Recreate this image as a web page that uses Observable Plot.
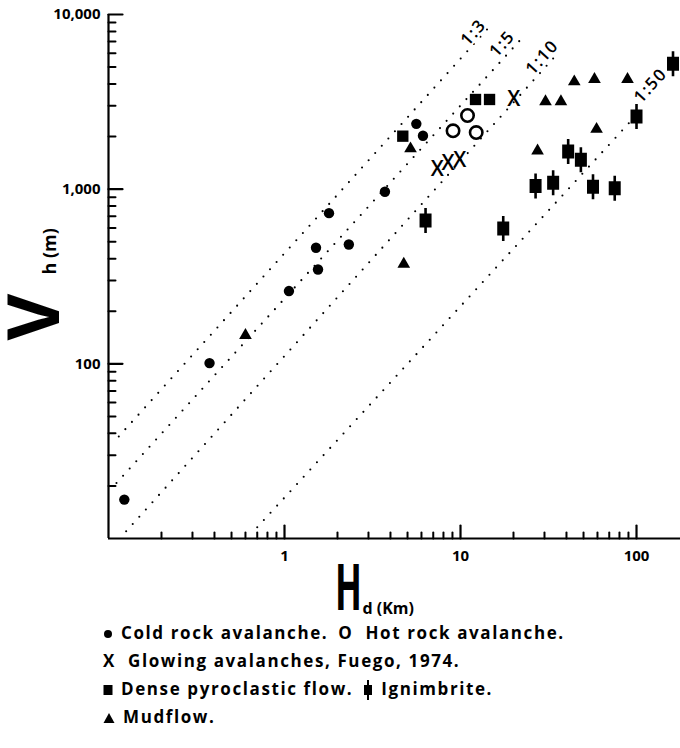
<!DOCTYPE html>
<html><head><meta charset="utf-8">
<script src="https://cdn.jsdelivr.net/npm/d3@7"></script>
<script src="https://cdn.jsdelivr.net/npm/@observablehq/plot@0.6"></script>
<style>
html,body{margin:0;padding:0;background:#fff;}
#wrap{position:relative;width:680px;height:748px;font-family:"Open Sans",sans-serif;overflow:hidden;}
#legend{position:absolute;left:103px;top:619px;font-weight:700;font-size:17px;letter-spacing:1.6px;line-height:28px;color:#000;}
#legend .row{height:28px;white-space:nowrap;}
#legend svg{vertical-align:middle;margin-right:8px;}
#legend .sp{display:inline-block;width:10px;}
</style></head><body>
<div id="wrap"><div id="chart"></div>
<div id="legend">
<div class="row"><svg width="10" height="12"><circle cx="5" cy="6" r="4" fill="#000"/></svg>Cold rock avalanche.<span class="sp"></span>O&nbsp; Hot rock avalanche.</div>
<div class="row">X&nbsp; Glowing avalanches, Fuego, 1974.</div>
<div class="row"><svg width="10" height="14"><rect x="0.5" y="2" width="9" height="10" fill="#000"/></svg>Dense pyroclastic flow.<span class="sp"></span><svg width="10" height="20"><rect x="1" y="5" width="8" height="10" fill="#000"/><rect x="4" y="0" width="2" height="20" fill="#000"/></svg>Ignimbrite.</div>
<div class="row"><svg width="12" height="12"><path d="M6,1L11.5,11H0.5Z" fill="#000"/></svg>Mudflow.</div>
</div></div>
<script>
// ---- data (H in km, V in m) ----
const coldH = [0.123, 0.375, 1.06, 1.51, 1.55, 1.79, 2.32, 3.72, 5.61, 6.12];
const coldV = [16.7, 101, 261, 462, 347, 729, 482, 966, 2366, 2023];
const hotH = [9.07, 10.96, 12.28];
const hotV = [2159, 2641, 2110];
const glowH = [7.37, 8.49, 9.9, 20.1];
const glowV = [1308, 1403, 1459, 3274];
const denseH = [4.70, 12.17, 14.62];
const denseV = [2011, 3262, 3262];
const ignH = [6.33, 17.49, 26.7, 33.6, 40.9, 48.3, 56.6, 75.2, 100, 161.2];
const ignV = [662, 595, 1043, 1088, 1643, 1473, 1033, 1013, 2606, 5222];
const mudH = [0.6, 4.76, 5.2, 27.4, 30.4, 37.2, 44.3, 57.7, 88.9, 59.3];
const mudV = [148.6, 380, 1739, 1691, 3239, 3239, 4206, 4341, 4341, 2249];

// ratio guide lines
const ratioLabels = ["1:3", "1:5", "1:10", "1:50"];
const ratioStartH = [0.1144, 0.111, 0.126, 0.70];
const ratioStartV = [38.4, 20.8, 11.0, 11.6];
const ratioEndH = [15.0, 22.8, 36.2, 105.4];
const ratioEndV = [8765, 7485, 6081, 2820];
const ratioLabelH = [11.85, 17.26, 29.1, 120.1];
const ratioLabelV = [7889, 6795, 5696, 3923];

// axes
const yMajor = [100, 1000, 10000];
const yTickLabels = ["100", "1,000", "10,000"];
const yMinor = [20, 30, 40, 50, 60, 70, 80, 90, 200, 300, 400, 500, 600, 700, 800, 900, 2000, 3000, 4000, 5000, 6000, 7000, 8000, 9000];
const xMajor = [1, 10, 100];
const xTickLabels = ["1", "10", "100"];
const xMinor = [0.2, 0.3, 0.4, 0.5, 0.6, 0.7, 0.8, 0.9, 2, 3, 4, 5, 6, 7, 8, 9, 20, 30, 40, 50, 60, 70, 80, 90];

// ---- build tables ----
const pts = (H, V) => H.map((h, i) => ({h, v: V[i]}));
const cold = pts(coldH, coldV), hot = pts(hotH, hotV), glow = pts(glowH, glowV);
const dense = pts(denseH, denseV), ign = pts(ignH, ignV), mud = pts(mudH, mudV);
const ratioLines = ratioLabels.flatMap((l, i) => [
  {label: l, h: ratioStartH[i], v: ratioStartV[i]},
  {label: l, h: ratioEndH[i], v: ratioEndV[i]}
]);
const ratioText = ratioLabels.map((l, i) => ({label: l, h: ratioLabelH[i], v: ratioLabelV[i]}));
const yTicks = yMajor.map((v, i) => ({v, label: yTickLabels[i]}));
const xTicks = xMajor.map((v, i) => ({v, label: xTickLabels[i]}));

const FONT = "Open Sans, sans-serif";
const tickRight = {draw(ctx, l) { ctx.moveTo(0, 0); ctx.lineTo(l, 0); }};
const tickUp = {draw(ctx, l) { ctx.moveTo(0, 0); ctx.lineTo(0, -l); }};
const ignSymbol = {draw(ctx) {
  ctx.rect(-6, -7, 12, 14);
  ctx.rect(-1.3, -12.5, 2.6, 25);
}};

const chart = Plot.plot({
  width: 680, height: 640,
  marginLeft: 108, marginRight: 0, marginTop: 14, marginBottom: 102,
  x: {type: "log", domain: [0.1, 177.8], axis: null},
  y: {type: "log", domain: [10, 10000], axis: null},
  style: {fontFamily: FONT, background: "#fff", color: "#000"},
  marks: [
    // ratio guide lines
    Plot.line(ratioLines, {x: "h", y: "v", z: "label", stroke: "#000", strokeWidth: 2.1, strokeDasharray: "0 9.8", strokeLinecap: "round"}),
    Plot.text(ratioText, {x: "h", y: "v", text: "label", rotate: -48, fontSize: 17, fontWeight: 600, fill: "#000", stroke: "#fff", strokeWidth: 4, paintOrder: "stroke"}),
    // axis lines
    Plot.ruleX([0.1], {strokeWidth: 2.2}),
    Plot.ruleY([10], {strokeWidth: 2.2}),
    // ticks (inward)
    Plot.vector(yMajor, {y: d => d, frameAnchor: "left", anchor: "start", length: 14, shape: tickRight, strokeWidth: 2.2}),
    Plot.vector(yMinor, {y: d => d, frameAnchor: "left", anchor: "start", length: 7, shape: tickRight, strokeWidth: 2}),
    Plot.vector(xMajor, {x: d => d, frameAnchor: "bottom", anchor: "start", length: 13, shape: tickUp, strokeWidth: 2.2}),
    Plot.vector(xMinor, {x: d => d, frameAnchor: "bottom", anchor: "start", length: 6, shape: tickUp, strokeWidth: 2}),
    // tick labels
    Plot.text(yTicks, {y: "v", text: "label", frameAnchor: "left", textAnchor: "end", dx: -8, fontSize: 15, fontWeight: 700}),
    Plot.text(xTicks, {x: "v", text: "label", frameAnchor: "bottom", lineAnchor: "middle", dy: 18, fontSize: 15, fontWeight: 700}),
    // axis titles
    Plot.text(["V"], {frameAnchor: "left", rotate: -90, dx: -73, dy: 64, fontSize: 72, fontWeight: 700, lineAnchor: "middle"}),
    Plot.text(["h (m)"], {frameAnchor: "left", rotate: -90, dx: -58, dy: -2, fontSize: 18, fontWeight: 700, lineAnchor: "middle"}),
    Plot.text(["H"], {frameAnchor: "bottom", dx: -46, dy: 51, fontSize: 64, fontWeight: 700, lineAnchor: "middle"}),
    Plot.text(["d (Km)"], {frameAnchor: "bottom", textAnchor: "start", dx: -32, dy: 75, fontSize: 16, fontWeight: 700, lineAnchor: "bottom"}),
    // data
    Plot.dot(cold, {x: "h", y: "v", r: 5.2, fill: "#000"}),
    Plot.dot(hot, {x: "h", y: "v", r: 6.2, stroke: "#000", strokeWidth: 2.6, fill: "none"}),
    Plot.text(glow, {x: "h", y: "v", text: () => "X", fontSize: 21, fontWeight: 600, fill: "#000"}),
    Plot.dot(dense, {x: "h", y: "v", symbol: "square", r: 6.4, fill: "#000"}),
    Plot.dot(ign, {x: "h", y: "v", symbol: ignSymbol, r: 6, fill: "#000"}),
    Plot.dot(mud, {x: "h", y: "v", symbol: "triangle", r: 4.7, fill: "#000", dy: 1.5})
  ]
});
document.getElementById("chart").appendChild(chart);
const texts = d3.select(chart).selectAll("text");
// letter spacing of the ratio labels
texts.filter(function() { return ratioLabels.includes(this.textContent); }).attr("letter-spacing", 1.5);
// narrow the large "H" as in the original lettering (scale about its own centre)
texts.filter(function() { return this.textContent === "H"; }).each(function() {
  const b = this.getBBox();
  const cx = b.x + b.width / 2, cy = b.y + b.height / 2;
  const t = this.getAttribute("transform") || "";
  this.setAttribute("transform", `${t} translate(${cx},${cy}) scale(0.55,1) translate(${-cx},${-cy})`);
});
</script>
</body></html>
